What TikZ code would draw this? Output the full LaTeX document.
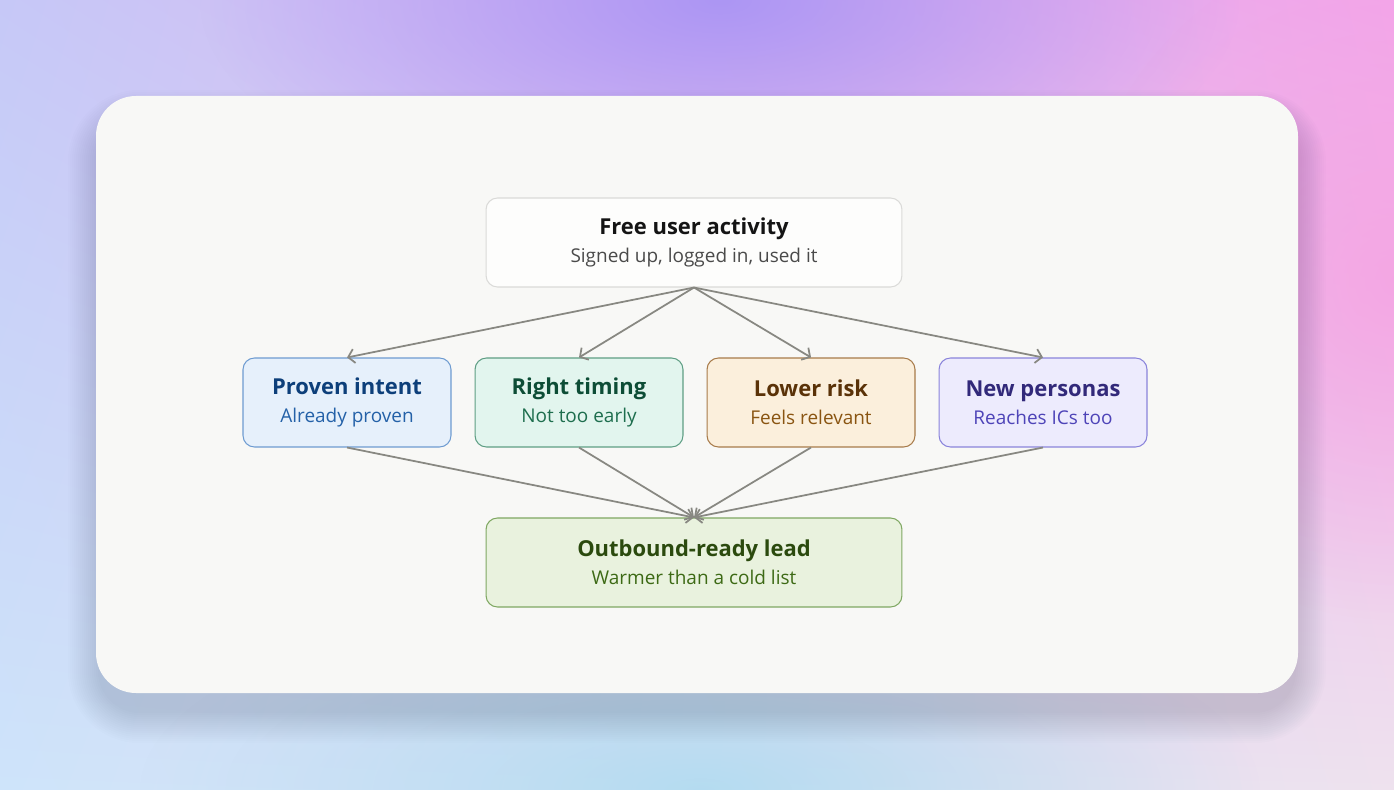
\documentclass[tikz,border=0pt]{standalone}
\usepackage{fontspec}
\setmainfont{Open Sans}
\usepackage{tikz}
\usetikzlibrary{positioning, arrows.meta, fadings, shadings}
\definecolor{bgul}{RGB}{198,200,247}
\definecolor{bgur}{RGB}{243,166,234}
\definecolor{bgll}{RGB}{206,228,250}
\definecolor{bglr}{RGB}{238,226,238}
\definecolor{bgpurple}{RGB}{172,150,244}
\definecolor{bgpink}{RGB}{245,160,225}
\definecolor{bgsky}{RGB}{170,218,240}
\definecolor{cardbg}{RGB}{248,248,246}
\definecolor{cardshadow}{RGB}{50,60,90}
\definecolor{arrowgray}{RGB}{136,136,130}
\definecolor{topfill}{RGB}{253,253,252}
\definecolor{topline}{RGB}{218,218,216}
\definecolor{toptitle}{RGB}{20,20,20}
\definecolor{topsub}{RGB}{74,74,74}
\definecolor{intentfill}{RGB}{230,240,251}
\definecolor{intentline}{RGB}{110,155,209}
\definecolor{intenttitle}{RGB}{13,63,122}
\definecolor{intentsub}{RGB}{36,97,168}
\definecolor{timingfill}{RGB}{226,245,238}
\definecolor{timingline}{RGB}{94,158,132}
\definecolor{timingtitle}{RGB}{13,77,54}
\definecolor{timingsub}{RGB}{30,110,78}
\definecolor{riskfill}{RGB}{251,239,220}
\definecolor{riskline}{RGB}{168,123,74}
\definecolor{risktitle}{RGB}{90,50,8}
\definecolor{risksub}{RGB}{138,85,18}
\definecolor{personafill}{RGB}{237,235,253}
\definecolor{personaline}{RGB}{138,132,219}
\definecolor{personatitle}{RGB}{50,41,122}
\definecolor{personasub}{RGB}{78,68,184}
\definecolor{leadfill}{RGB}{233,242,222}
\definecolor{leadline}{RGB}{127,168,98}
\definecolor{leadtitle}{RGB}{43,74,14}
\definecolor{leadsub}{RGB}{61,106,21}
\tikzfading[name=softspot, inner color=transparent!0, outer color=transparent!100]

\begin{document}
\begin{tikzpicture}[
  x=0.02cm, y=-0.02cm,
  every node/.style={font=\fontsize{10.8}{13}\selectfont},
  stage/.style={rectangle, draw, rounded corners=6.5pt, line width=0.6pt, minimum height=1.78cm, minimum width=4.16cm, align=center},
  wide/.style={minimum width=8.32cm},
  arrow/.style={-{Straight Barb[length=3.5pt, width=8pt]}, line width=1pt, draw=arrowgray}
]
  \useasboundingbox (0,0) rectangle (1394,790);

  % Backdrop
  \shade[upper left=bgul, upper right=bgur, lower left=bgll, lower right=bglr] (0,0) rectangle (1394,790);
  \fill[bgpurple, path fading=softspot] (720,0) ellipse (520 and 230);
  \fill[bgpink, path fading=softspot, opacity=0.75] (1394,280) ellipse (320 and 340);
  \fill[bgsky, path fading=softspot, opacity=0.8] (700,790) ellipse (560 and 200);

  % Card shadow, then card
  \foreach \r in {2,4,...,32}
    \fill[cardshadow, opacity=0.011, rounded corners=0.8cm+\r*0.02cm] (100-\r,122-\r) rectangle (1294+\r,711+\r);
  \fill[cardbg, rounded corners=0.8cm] (96,96) rectangle (1298,693);

  % Top row: activity
  \node[stage, wide, fill=topfill, draw=topline] (activity) at (694,242.5)
    {{\fontsize{12.5}{15}\selectfont\bfseries\color{toptitle}Free user activity}\\[3pt]{\color{topsub}Signed up, logged in, used it}};

  % Middle row: signals
  \node[stage, fill=intentfill, draw=intentline, text=intentsub] (intent) at (347,402.5)
    {{\fontsize{12.5}{15}\selectfont\bfseries\color{intenttitle}Proven intent}\\[3pt]Already proven};
  \node[stage, fill=timingfill, draw=timingline, text=timingsub, right=0.46cm of intent] (timing)
    {{\fontsize{12.5}{15}\selectfont\bfseries\color{timingtitle}Right timing}\\[3pt]Not too early};
  \node[stage, fill=riskfill, draw=riskline, text=risksub, right=0.46cm of timing] (risk)
    {{\fontsize{12.5}{15}\selectfont\bfseries\color{risktitle}Lower risk}\\[3pt]Feels relevant};
  \node[stage, fill=personafill, draw=personaline, text=personasub, right=0.46cm of risk] (personas)
    {{\fontsize{12.5}{15}\selectfont\bfseries\color{personatitle}New personas}\\[3pt]Reaches ICs too};

  % Bottom row: lead
  \node[stage, wide, fill=leadfill, draw=leadline, text=leadsub] (lead) at (694,562.5)
    {{\fontsize{12.5}{15}\selectfont\bfseries\color{leadtitle}Outbound-ready lead}\\[3pt]Warmer than a cold list};

  % Arrows
  \foreach \sig in {intent, timing, risk, personas} {
    \draw[arrow] (activity.south) -- (\sig.north);
    \draw[arrow] (\sig.south) -- (lead.north);
  }

\end{tikzpicture}
\end{document}
